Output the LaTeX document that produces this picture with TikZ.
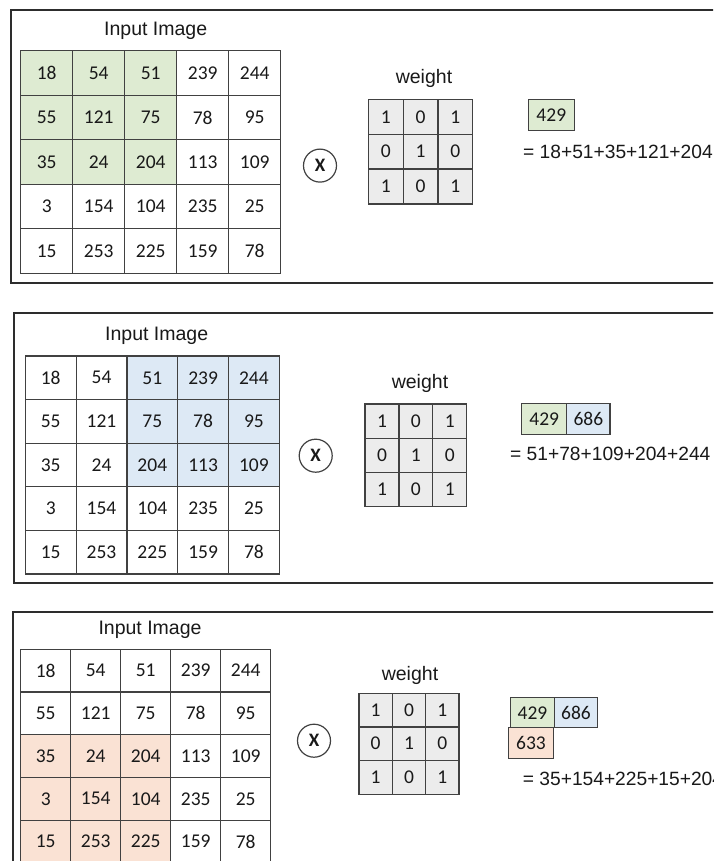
\documentclass[tikz,border=0pt]{standalone}
\usepackage{fontspec}
\setmainfont{Liberation Sans}
\newfontfamily\cellfont{Carlito}

\definecolor{panelline}{RGB}{45,45,45}
\definecolor{gridline}{RGB}{65,65,65}
\definecolor{greencell}{RGB}{222,235,210}
\definecolor{bluecell}{RGB}{221,233,245}
\definecolor{peachcell}{RGB}{250,226,212}
\definecolor{weightcell}{RGB}{236,236,236}
\definecolor{labeltext}{RGB}{25,25,25}

\tikzset{
  panel/.style={draw=panelline, line width=2.2pt},
  imgcell/.style={draw=gridline, line width=1.2pt, inner sep=0pt,
    text=labeltext, font=\cellfont\fontsize{19.5}{22}\selectfont},
  wcell/.style={imgcell, fill=weightcell},
  resbox/.style={imgcell, line width=1.3pt},
  label/.style={inner sep=0pt, anchor=base, text=labeltext,
    font=\fontsize{19.5}{22}\selectfont},
  formula/.style={label, anchor=base west, font=\fontsize{19.2}{22}\selectfont},
  mult/.style={circle, draw=gridline, line width=1.2pt, minimum size=33pt,
    inner sep=0pt, text=labeltext, font=\cellfont\bfseries\fontsize{19}{22}\selectfont}
}

% 5x5 input image: #1 prefix, #2 left, #3 top, #4 cell width, #5 cell height,
% #6 window colour, #7 window first column, #8 window first row
\newcommand\imagegrid[8]{%
  \fill[#6] ({#2+(#7-1)*#4},{-(#3+(#8-1)*#5)}) rectangle ++({3*#4},{-3*#5});
  \foreach \vals [count=\r] in {{18,54,51,239,244},{55,121,75,78,95},
      {35,24,204,113,109},{3,154,104,235,25},{15,253,225,159,78}} {
    \foreach \v [count=\c] in \vals {
      \node[imgcell, minimum width=#4pt, minimum height=#5pt] (#1-\r-\c)
        at ({#2+(\c-0.5)*#4},{-(#3+(\r-0.5)*#5)}) {\v};
    }
  }%
}

% 3x3 kernel: #1 prefix, #2 left, #3 top, #4 cell width, #5 cell height
\newcommand\weightgrid[5]{%
  \foreach \vals [count=\r] in {{1,0,1},{0,1,0},{1,0,1}} {
    \foreach \v [count=\c] in \vals {
      \node[wcell, minimum width=#4pt, minimum height=#5pt] (#1-\r-\c)
        at ({#2+(\c-0.5)*#4},{-(#3+(\r-0.5)*#5)}) {\v};
    }
  }%
}

\begin{document}
\begin{tikzpicture}[x=1pt, y=1pt]
\useasboundingbox (0,0) rectangle (713,-861);
\fill[white] (0,0) rectangle (713,-861);
\clip (0,0) rectangle (713,-861);

% ---------- step 1 ----------
\draw[panel] (11,-10) rectangle (740,-283.3);
\node[label] (title1) at (155.7,-36) {Input Image};
\imagegrid{a}{20.7}{50.7}{52}{44.5}{greencell}{1}{1}
\node[mult] (mul1) at (320,-165.6) {X};
\node[label] (wlabel1) at (424,-83.3) {weight};
\weightgrid{w}{368.3}{99.3}{34.8}{34.9}
\node[resbox, fill=greencell, minimum width=46pt, minimum height=31.4pt] (r1a) at (551.3,-115) {429};
\node[formula] (sum1) at (523,-158.3) {= 18+51+35+121+204};

% ---------- step 2 ----------
\draw[panel] (14,-313.3) rectangle (740,-583);
\node[label] (title2) at (156.7,-340.7) {Input Image};
\imagegrid{b}{25.3}{356}{50.8}{43.6}{bluecell}{3}{1}
\node[mult] (mul2) at (315.7,-455.7) {X};
\node[label] (wlabel2) at (420,-388.3) {weight};
\weightgrid{v}{365}{404}{33.9}{34.2}
\node[resbox, fill=greencell, minimum width=45pt, minimum height=31pt] (r2a) at (544.2,-418.8) {429};
\node[resbox, fill=bluecell, minimum width=43.3pt, minimum height=31pt] (r2b) at (588.35,-418.8) {686};
\node[formula] (sum2) at (510,-460.7) {= 51+78+109+204+244};

% ---------- step 3 ----------
\draw[panel] (13.3,-612.3) rectangle (740,-890);
\node[label] (title3) at (150,-634.3) {Input Image};
\imagegrid{c}{20.7}{649.3}{50}{42.7}{peachcell}{1}{3}
\node[mult] (mul3) at (314,-740.7) {X};
\node[label] (wlabel3) at (410,-680.7) {weight};
\weightgrid{u}{359}{693.3}{33.3}{33.6}
\node[resbox, fill=greencell, minimum width=43.6pt, minimum height=30pt] (r3a) at (532.5,-712.7) {429};
\node[resbox, fill=bluecell, minimum width=43.4pt, minimum height=30pt] (r3b) at (576,-712.7) {686};
\node[resbox, fill=peachcell, minimum width=44.6pt, minimum height=30.6pt] (r3c) at (531,-743) {633};
\node[formula] (sum3) at (522.7,-785) {= 35+154+225+15+204};
\end{tikzpicture}
\end{document}
